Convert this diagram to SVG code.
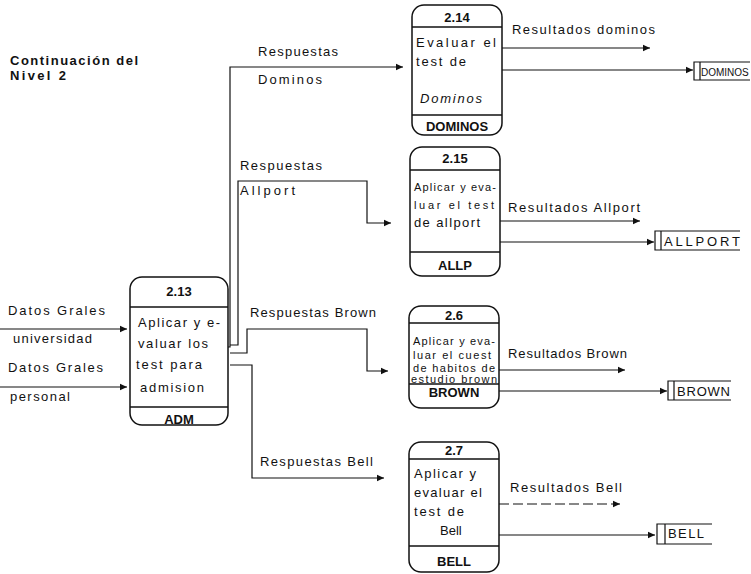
<svg xmlns="http://www.w3.org/2000/svg" width="751" height="574" viewBox="0 0 751 574">
<style>
text{font-family:"Liberation Sans",Arial,sans-serif;fill:#111}
.t{font-size:13px}
.s{font-size:11px}
.b{font-size:13px;font-weight:bold}
.c{text-anchor:middle}
.box{fill:none;stroke:#111;stroke-width:1.5}
.sep{stroke:#111;stroke-width:1.3}
.ln{fill:none;stroke:#111;stroke-width:1.2}
.st{fill:none;stroke:#111;stroke-width:1.2}
</style>
<defs>
<marker id="ah" markerWidth="8" markerHeight="8" refX="7" refY="4" orient="auto" markerUnits="userSpaceOnUse">
<path d="M0,0.8 L7,4 L0,7.2 Z" fill="#111"/>
</marker>
</defs>

<g id="title">
<text class="b" x="10" y="65" textLength="128" lengthAdjust="spacing">Continuación del</text>
<text class="b" x="10" y="80" textLength="56" lengthAdjust="spacing">Nivel 2</text>
</g>

<g id="p213">
<rect class="box" x="130" y="277" width="98" height="148" rx="12"/>
<line class="sep" x1="130" y1="307" x2="228" y2="307"/>
<line class="sep" x1="130" y1="407" x2="228" y2="407"/>
<text class="b c" x="179" y="296">2.13</text>
<text class="t" x="138" y="327" textLength="82" lengthAdjust="spacing">Aplicar y e-</text>
<text class="t" x="138" y="348" textLength="70" lengthAdjust="spacing">valuar los</text>
<text class="t" x="136" y="369" textLength="66" lengthAdjust="spacing">test para</text>
<text class="t" x="140" y="392" textLength="64" lengthAdjust="spacing">admision</text>
<text class="b c" x="179" y="424">ADM</text>
</g>

<g id="p214">
<rect class="box" x="412" y="5" width="90" height="130" rx="12"/>
<line class="sep" x1="412" y1="27" x2="502" y2="27"/>
<line class="sep" x1="412" y1="115" x2="502" y2="115"/>
<text class="b c" x="457" y="22">2.14</text>
<text class="t" x="416" y="47" textLength="80" lengthAdjust="spacing">Evaluar el</text>
<text class="t" x="416" y="66" textLength="50" lengthAdjust="spacing">test de</text>
<text class="t" x="420" y="103" font-style="italic" textLength="62" lengthAdjust="spacing">Dominos</text>
<text class="b c" x="457" y="131">DOMINOS</text>
</g>

<g id="p215">
<rect class="box" x="410" y="147" width="90" height="129" rx="12"/>
<line class="sep" x1="410" y1="170" x2="500" y2="170"/>
<line class="sep" x1="410" y1="252" x2="500" y2="252"/>
<text class="b c" x="455" y="163">2.15</text>
<text class="s" x="414" y="191" textLength="82" lengthAdjust="spacing">Aplicar y eva-</text>
<text class="s" x="414" y="209" textLength="80" lengthAdjust="spacing">luar el  test</text>
<text class="t" x="414" y="227" textLength="66" lengthAdjust="spacing">de allport</text>
<text class="b c" x="455" y="270">ALLP</text>
</g>

<g id="p26">
<rect class="box" x="409" y="306" width="90" height="102" rx="12"/>
<line class="sep" x1="409" y1="323" x2="499" y2="323"/>
<line class="sep" x1="409" y1="384" x2="499" y2="384"/>
<text class="b c" x="454" y="320">2.6</text>
<text class="s" x="413" y="345" textLength="82" lengthAdjust="spacing">Aplicar y eva-</text>
<text class="s" x="413" y="359" textLength="78" lengthAdjust="spacing">luar el cuest</text>
<text class="s" x="413" y="372" textLength="82" lengthAdjust="spacing">de habitos de</text>
<text class="s" x="411" y="383" textLength="86" lengthAdjust="spacing">estudio brown</text>
<text class="b c" x="454" y="397">BROWN</text>
</g>

<g id="p27">
<rect class="box" x="409" y="442" width="90" height="130" rx="12"/>
<line class="sep" x1="409" y1="459" x2="499" y2="459"/>
<line class="sep" x1="409" y1="546" x2="499" y2="546"/>
<text class="b c" x="454" y="455">2.7</text>
<text class="t" x="414" y="478" textLength="62" lengthAdjust="spacing">Aplicar y</text>
<text class="t" x="414" y="497" textLength="68" lengthAdjust="spacing">evaluar el</text>
<text class="t" x="414" y="516" textLength="50" lengthAdjust="spacing">test de</text>
<text class="t" x="440" y="535">Bell</text>
<text class="b c" x="454" y="566">BELL</text>
</g>

<g id="ds-dominos">
<path class="st" d="M750,62 H694 V80 H750 M700,62 V80"/>
<text x="701" y="76" font-size="10">DOMINOS</text>
</g>
<g id="ds-allport">
<path class="st" d="M740,231 H655 V250 H740 M661,231 V250"/>
<text class="t" x="664" y="246" textLength="76" lengthAdjust="spacing">ALLPORT</text>
</g>
<g id="ds-brown">
<path class="st" d="M731,381 H668 V400 H731 M674,381 V400"/>
<text class="t" x="677" y="396" textLength="53" lengthAdjust="spacing">BROWN</text>
</g>
<g id="ds-bell">
<path class="st" d="M712,524 H657 V544 H712 M665,524 V544"/>
<text class="t" x="668" y="538" textLength="36" lengthAdjust="spacing">BELL</text>
</g>

<g id="connectors">
<path class="ln" d="M0,329 H127" marker-end="url(#ah)"/>
<path class="ln" d="M0,387 H127" marker-end="url(#ah)"/>
<path class="ln" d="M228,347 H230 V67 H403" marker-end="url(#ah)"/>
<path class="ln" d="M230,345 H238 V181 H367 V223 H391" marker-end="url(#ah)"/>
<path class="ln" d="M230,353 H247 V329 H367 V371 H388" marker-end="url(#ah)"/>
<path class="ln" d="M230,365 H252 V478 H384" marker-end="url(#ah)"/>
<path class="ln" d="M502,48 H650" marker-end="url(#ah)"/>
<path class="ln" d="M502,70 H693" marker-end="url(#ah)"/>
<path class="ln" d="M500,221 H640" marker-end="url(#ah)"/>
<path class="ln" d="M500,242 H654" marker-end="url(#ah)"/>
<path class="ln" d="M499,370 H625" marker-end="url(#ah)"/>
<path class="ln" d="M499,391 H667" marker-end="url(#ah)"/>
<path class="ln" d="M499,504 H620" stroke-dasharray="10,4" marker-end="url(#ah)"/>
<path class="ln" d="M499,535 H655" marker-end="url(#ah)"/>
<text class="t" x="8" y="315" textLength="97" lengthAdjust="spacing">Datos Grales</text>
<text class="t" x="13" y="343" textLength="79" lengthAdjust="spacing">universidad</text>
<text class="t" x="8" y="372" textLength="95" lengthAdjust="spacing">Datos Grales</text>
<text class="t" x="10" y="401" textLength="60" lengthAdjust="spacing">personal</text>
<text class="t" x="258" y="56" textLength="80" lengthAdjust="spacing">Respuestas</text>
<text class="t" x="258" y="84" textLength="64" lengthAdjust="spacing">Dominos</text>
<text class="t" x="240" y="170" textLength="82" lengthAdjust="spacing">Respuestas</text>
<text class="t" x="240" y="195" textLength="55" lengthAdjust="spacing">Allport</text>
<text class="t" x="250" y="317" textLength="126" lengthAdjust="spacing">Respuestas Brown</text>
<text class="t" x="260" y="466" textLength="113" lengthAdjust="spacing">Respuestas Bell</text>
<text class="t" x="512" y="34" textLength="143" lengthAdjust="spacing">Resultados dominos</text>
<text class="t" x="508" y="212" textLength="132" lengthAdjust="spacing">Resultados Allport</text>
<text class="t" x="508" y="358" textLength="119" lengthAdjust="spacing">Resultados Brown</text>
<text class="t" x="510" y="492" textLength="112" lengthAdjust="spacing">Resultados Bell</text>
</g>
</svg>
